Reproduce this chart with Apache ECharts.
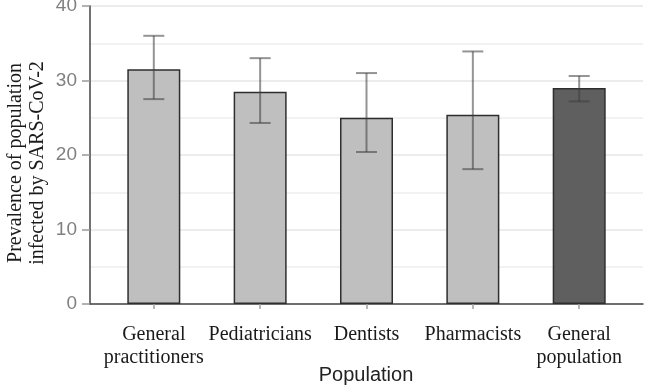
<!DOCTYPE html>
<html>
<head>
<meta charset="utf-8">
<script src="https://cdn.jsdelivr.net/npm/echarts@6/dist/echarts.min.js"></script>
<style>
  html, body { margin: 0; padding: 0; background: #fff; }
  #main { width: 645px; height: 387px; }
</style>
</head>
<body>
<div id="main"></div>
<script>
// categories and values
var categories = ['General\npractitioners', 'Pediatricians', 'Dentists', 'Pharmacists', 'General\npopulation'];
var prevalence = [31.5, 28.5, 25.0, 25.4, 29.0];
var ciLower = [27.5, 24.3, 20.4, 18.1, 27.2];
var ciUpper = [36.0, 33.0, 31.0, 33.9, 30.6];
var yTicks = [0, 10, 20, 30, 40];

var barColors = ['#bfbfbf', '#bfbfbf', '#bfbfbf', '#bfbfbf', '#5f5f5f'];
var positions = categories.map(function (c, i) { return i; });

var chart = echarts.init(document.getElementById('main'));

var barData = prevalence.map(function (v, i) {
    return { value: [i, v], itemStyle: { color: barColors[i] } };
});
var errData = prevalence.map(function (v, i) {
    return [i, ciLower[i], ciUpper[i]];
});

var option = {
    animation: false,
    grid: { left: 90, right: 2, top: 6, bottom: 83, outerBoundsMode: 'none' },
    xAxis: {
        type: 'value',
        min: -0.6,
        max: 4.6,
        splitLine: { show: false },
        axisLine: { show: true, onZero: false, lineStyle: { color: '#444', width: 1.5 } },
        axisTick: { show: true, customValues: positions, length: 5, lineStyle: { color: '#a0a0a0', width: 1.5 } },
        axisLabel: {
            customValues: positions,
            margin: 19,
            fontFamily: 'Liberation Serif',
            fontSize: 20,
            lineHeight: 23,
            color: '#1a1a1a',
            formatter: function (v) { return categories[Math.round(v)]; }
        }
    },
    yAxis: {
        type: 'value',
        min: 0,
        max: 40,
        interval: 10,
        axisLine: { show: true, onZero: false, lineStyle: { color: '#444', width: 1.5 } },
        axisTick: { show: true, length: 8, lineStyle: { color: '#999', width: 1.5 } },
        minorTick: { show: false, splitNumber: 2 },
        minorSplitLine: { show: true, lineStyle: { color: '#eeeeee', width: 1.5 } },
        splitLine: { show: true, lineStyle: { color: '#e6e6e6', width: 1.5 } },
        axisLabel: {
            margin: 13,
            fontFamily: 'Liberation Sans',
            fontSize: 19,
            color: '#808080',
            padding: [3, 0, 0, 0],
            customValues: yTicks
        }
    },
    graphic: [
        {
            type: 'text',
            x: 366, y: 375,
            style: {
                text: 'Population',
                align: 'center', verticalAlign: 'middle',
                fontFamily: 'Liberation Sans', fontSize: 20, fill: '#222'
            }
        },
        {
            type: 'text',
            x: 27, y: 163,
            rotation: Math.PI / 2,
            style: {
                text: 'Prevalence of population\ninfected by SARS-CoV-2',
                align: 'center', verticalAlign: 'middle',
                fontFamily: 'Liberation Serif', fontSize: 20, lineHeight: 22,
                fill: '#1a1a1a'
            }
        }
    ],
    series: [
        {
            type: 'bar',
            barWidth: 53,
            data: barData,
            itemStyle: { borderColor: '#2e2e2e', borderWidth: 1.5 }
        },
        {
            type: 'custom',
            z: 5,
            data: errData,
            renderItem: function (params, api) {
                var x = api.value(0);
                var lo = api.coord([x, api.value(1)]);
                var hi = api.coord([x, api.value(2)]);
                var hw = 10.5;
                var st = { stroke: 'rgba(60,60,60,0.55)', lineWidth: 2 };
                return {
                    type: 'group',
                    children: [
                        { type: 'line', shape: { x1: lo[0], y1: lo[1], x2: hi[0], y2: hi[1] }, style: st },
                        { type: 'line', shape: { x1: lo[0] - hw, y1: lo[1], x2: lo[0] + hw, y2: lo[1] }, style: st },
                        { type: 'line', shape: { x1: hi[0] - hw, y1: hi[1], x2: hi[0] + hw, y2: hi[1] }, style: st }
                    ]
                };
            }
        }
    ]
};

chart.setOption(option);
window.addEventListener('resize', function () {
    chart.resize();
});
</script>
</body>
</html>
